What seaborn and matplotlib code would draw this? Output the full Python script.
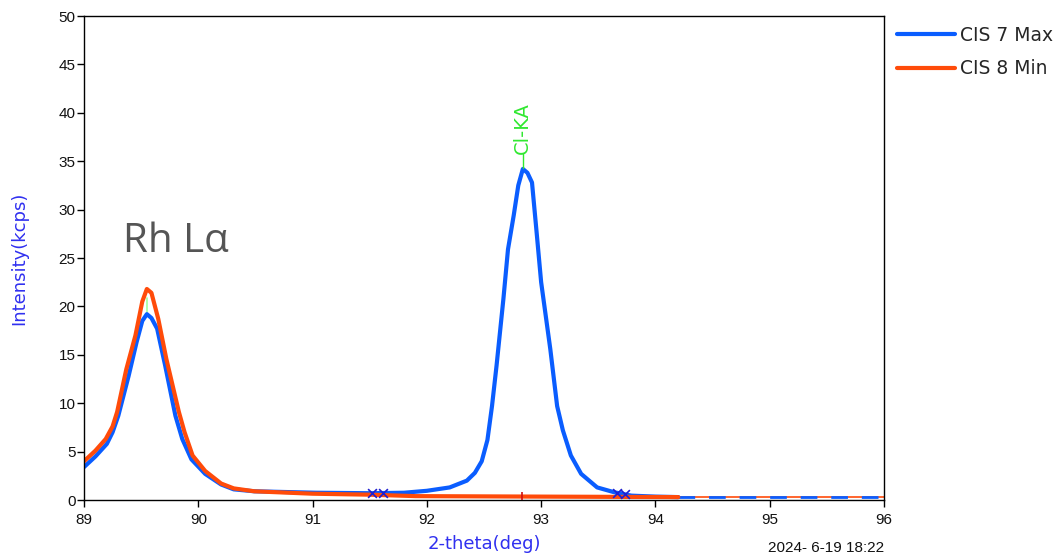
import numpy as np
import pandas as pd
import matplotlib
matplotlib.use("Agg")
import matplotlib.pyplot as plt
import seaborn as sns
from matplotlib.lines import Line2D

# ---- data ----
blue_x = [89.00, 89.10, 89.20, 89.25, 89.30, 89.39, 89.46, 89.51, 89.55, 89.59, 89.64, 89.71,
          89.80, 89.86, 89.94, 90.06, 90.20, 90.31, 90.49, 91.03, 91.50, 91.80, 92.00, 92.20,
          92.35, 92.42, 92.48, 92.53, 92.57, 92.61, 92.67, 92.71, 92.76, 92.80, 92.84, 92.88, 92.92,
          92.96, 93.00, 93.08, 93.14, 93.19, 93.26, 93.35, 93.49, 93.64, 93.79, 94.00, 94.20]
blue_y = [3.4, 4.5, 5.8, 7.0, 8.7, 12.8, 16.3, 18.5, 19.2, 18.8, 17.7, 13.9,
          8.7, 6.3, 4.2, 2.7, 1.6, 1.1, 0.9, 0.75, 0.7, 0.75, 0.95, 1.3,
          2.0, 2.8, 4.0, 6.2, 9.7, 13.9, 20.8, 25.9, 29.4, 32.5, 34.2, 33.8, 32.8,
          27.7, 22.5, 15.6, 9.7, 7.2, 4.6, 2.7, 1.3, 0.8, 0.45, 0.35, 0.3]
blue_tail_x = [94.20, 96.00]
blue_tail_y = [0.3, 0.3]

orange_x = [89.00, 89.10, 89.19, 89.25, 89.29, 89.37, 89.45, 89.51, 89.55, 89.59, 89.65, 89.72,
            89.83, 89.88, 89.95, 90.06, 90.20, 90.31, 90.49, 91.00, 91.50, 91.90, 93.00, 94.20]
orange_y = [4.0, 5.1, 6.3, 7.6, 9.1, 13.5, 17.0, 20.5, 21.8, 21.4, 18.7, 14.6,
            9.1, 7.0, 4.6, 3.0, 1.7, 1.2, 0.9, 0.65, 0.55, 0.4, 0.35, 0.3]
orange_tail_x = [94.20, 96.00]
orange_tail_y = [0.3, 0.3]

series_names = ["CIS 7 Max", "CIS 8 Min"]
marker_x = [91.52, 91.62, 93.66, 93.73]
marker_y = [0.72, 0.72, 0.72, 0.6]
line_name = "Cl-KA"
line_pos = 92.84
peak_label = "Rh L\u03b1"
x_ticks = [89, 90, 91, 92, 93, 94, 95, 96]
y_ticks = [0, 5, 10, 15, 20, 25, 30, 35, 40, 45, 50]
date_text = "2024- 6-19 18:22"

BLUE = "#0a5dff"
ORANGE = "#ff4b0a"
LABEL_BLUE = "#3030f0"
GREEN = "#30e830"

sns.set_style("white")
plt.rcParams['font.family'] = ['Liberation Sans', 'DejaVu Sans']

fig = plt.figure(figsize=(10.6, 5.57), dpi=100)
ax = fig.add_axes([84/1060, 57/557, 800/1060, 484/557])

df_b = pd.DataFrame({"x": blue_x, "y": blue_y, "s": series_names[0]})
df_o = pd.DataFrame({"x": orange_x, "y": orange_y, "s": series_names[1]})

sns.lineplot(data=df_b, x="x", y="y", ax=ax, color=BLUE, lw=3, sort=False, legend=False)
sns.lineplot(x=blue_tail_x, y=blue_tail_y, ax=ax, color=BLUE, lw=2, ls=(0, (6, 5)), legend=False)
sns.lineplot(data=df_o, x="x", y="y", ax=ax, color=ORANGE, lw=3, sort=False, legend=False)
sns.lineplot(x=orange_tail_x, y=orange_tail_y, ax=ax, color=ORANGE, lw=1.2, legend=False, zorder=1)

# markers
sns.scatterplot(x=marker_x, y=marker_y, ax=ax, marker="x", color="#2020d0", s=40, linewidth=1.2, zorder=5)
ax.plot([92.83], [0.4], marker="|", color="#d01010", ms=6, mew=1.2, zorder=5)

# line annotation
ax.plot([line_pos, line_pos], [34.3, 35.7], color=GREEN, lw=1)
ax.text(line_pos, 35.7, line_name, rotation=90, color=GREEN, fontsize=14,
        ha="center", va="bottom", family=['DejaVu Sans'])
ax.plot([89.55, 89.55], [19.4, 20.9], color="#a0ffa0", lw=1.2, zorder=1)

ax.text(89.34, 25.6, peak_label, fontsize=29, color="#555555",
        family=['Open Sans', 'DejaVu Sans'], ha="left", va="baseline")

ax.set_xlim(89, 96)
ax.set_ylim(0, 50)
ax.set_xticks(x_ticks)
ax.set_yticks(y_ticks)
ax.tick_params(axis="both", direction="out", length=5, width=1, color="black",
               labelsize=11, labelcolor="#111111")
ax.tick_params(axis="x", pad=4)
ax.tick_params(axis="y", pad=1)
ax.tick_params(axis="both", which="both", left=True, bottom=True)
for sp in ax.spines.values():
    sp.set_visible(True)
    sp.set_color("black")
    sp.set_linewidth(1)

ax.set_xlabel("2-theta(deg)", color=LABEL_BLUE, fontsize=13, family=['DejaVu Sans'])
ax.set_ylabel("Intensity(kcps)", color=LABEL_BLUE, fontsize=13, family=['DejaVu Sans'])
ax.yaxis.set_label_coords(-0.07, 0.5)
ax.xaxis.set_label_coords(0.5, -0.072)

fig.text(884/1060, 1 - 548/557, date_text, ha="right", va="center", fontsize=11, color="#111111")

handles = [Line2D([], [], color=BLUE, lw=3), Line2D([], [], color=ORANGE, lw=3)]
leg = fig.legend(handles, series_names, loc="upper left", bbox_to_anchor=(897/1060, 1 - 26/557),
                 frameon=False, handlelength=3.1, labelspacing=0.76,
                 handletextpad=0.27, borderaxespad=0, borderpad=0.0,
                 prop={'family': ['DejaVu Sans'], 'size': 13.5})

fig.savefig("out.png", dpi=100)
